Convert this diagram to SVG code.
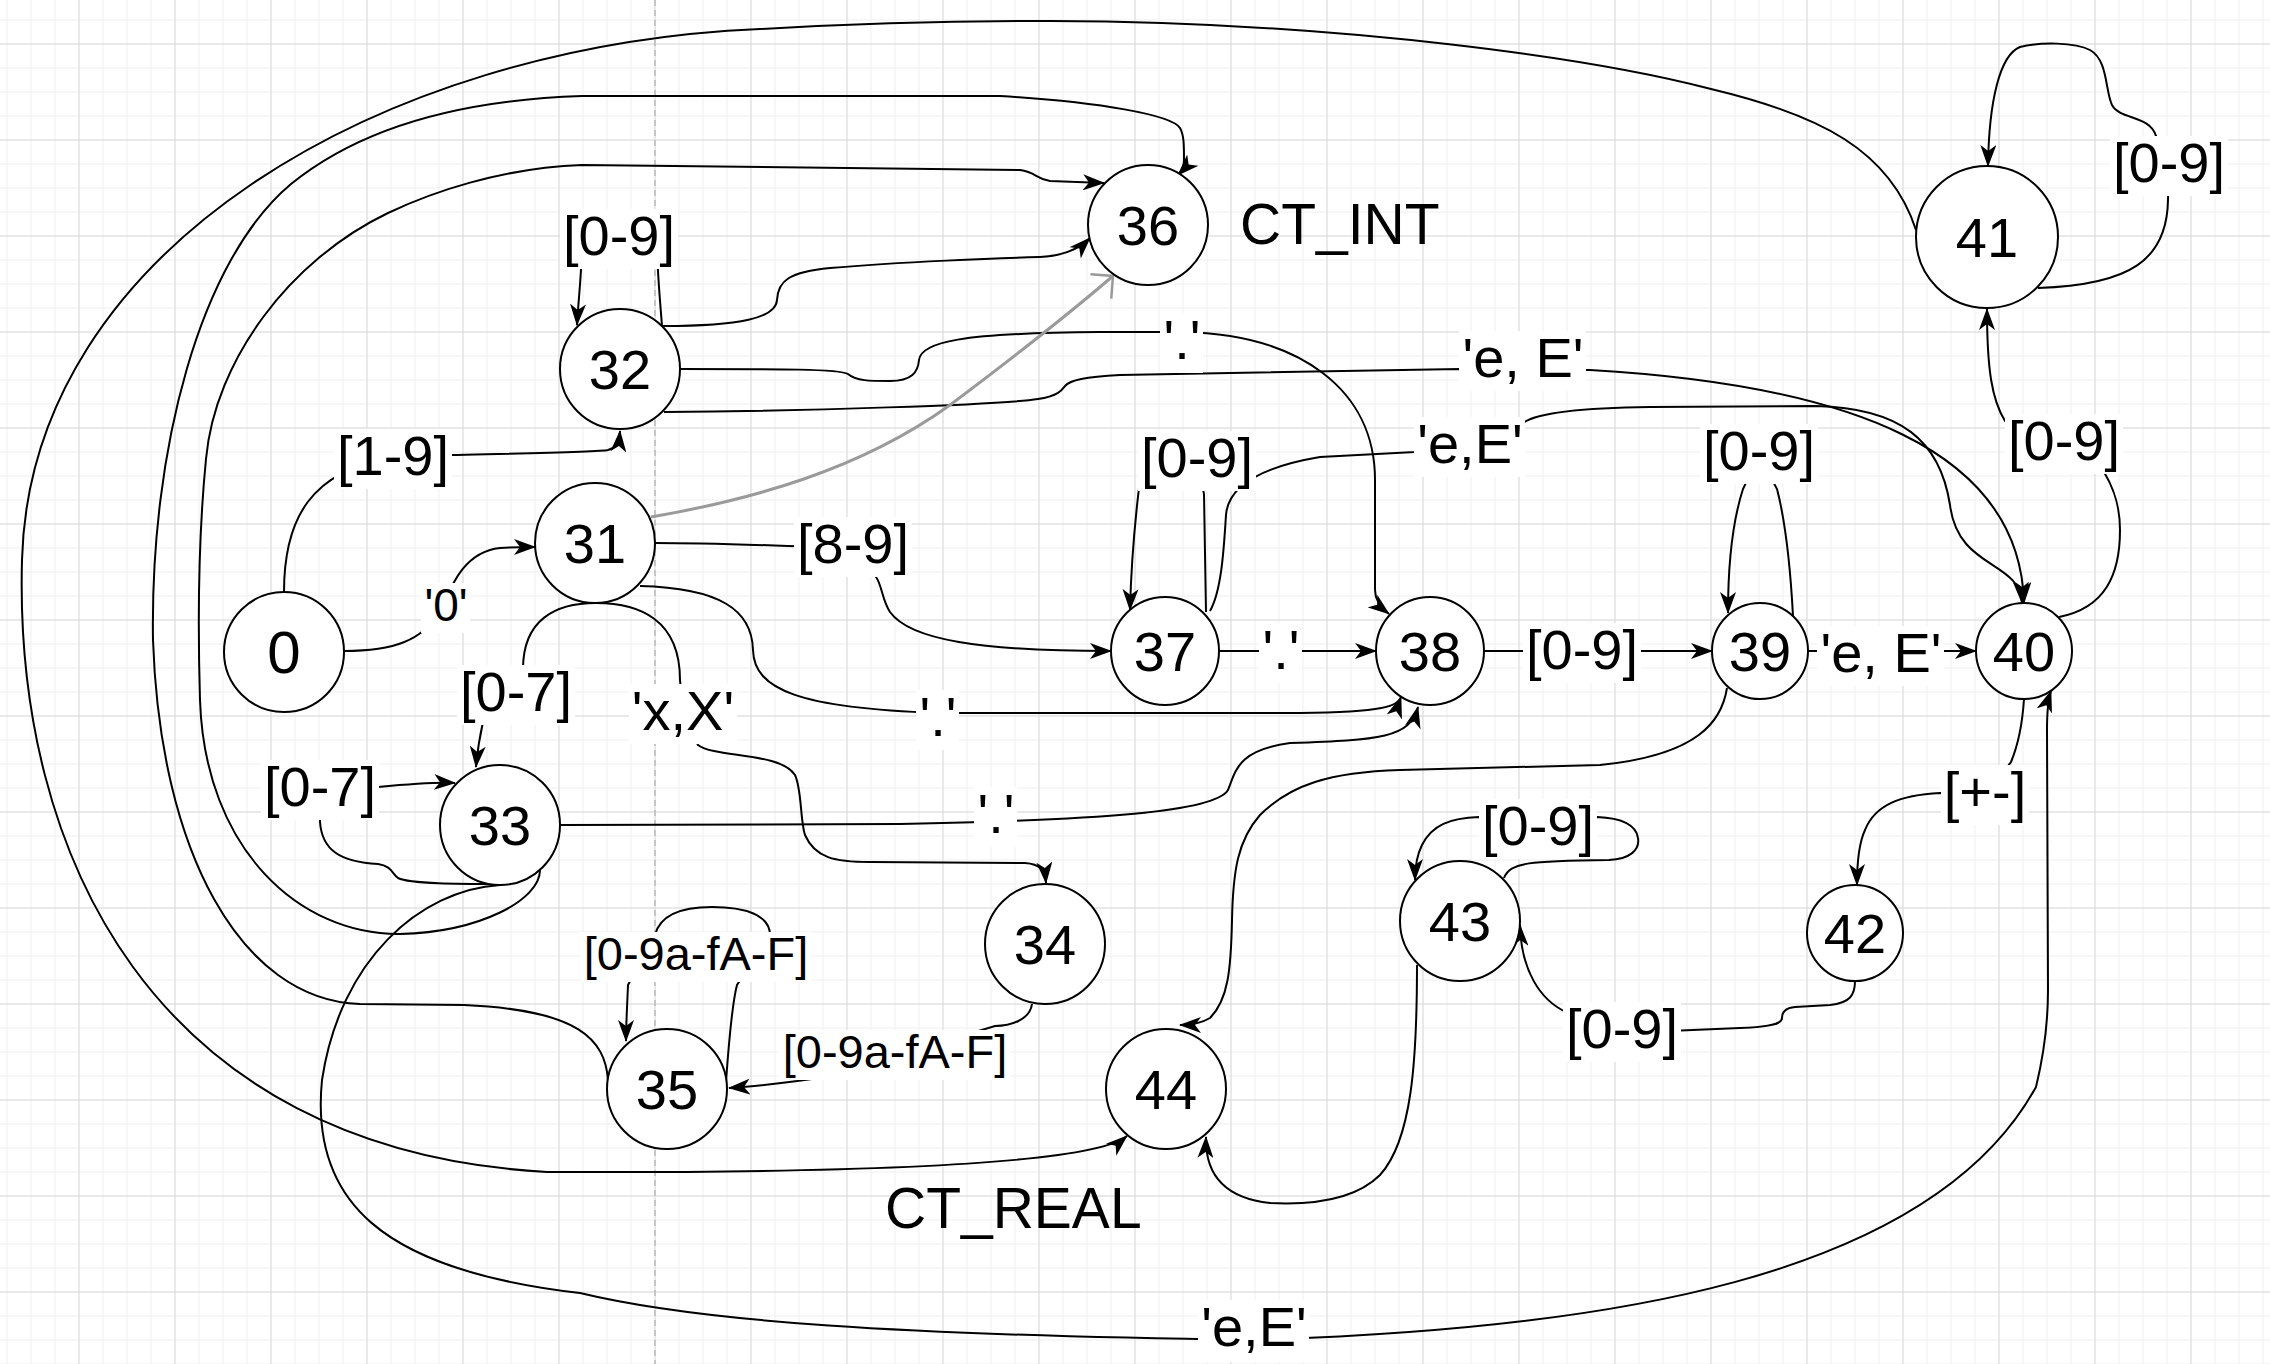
<svg xmlns="http://www.w3.org/2000/svg" width="2270" height="1364" viewBox="0 0 2270 1364">
<defs>
<style>
.c{fill:none;stroke:#000;stroke-width:2;marker-end:url(#arr)}
.g{fill:none;stroke:#9a9a9a;stroke-width:3;marker-end:url(#garr)}
.nd circle{fill:#fff;stroke:#000;stroke-width:2}
text{font-family:"Liberation Sans",Arial,Helvetica,sans-serif;fill:#000}
.nd text{font-size:56px;text-anchor:middle}
.lb rect{fill:#fff}
.lb text{font-size:56px;text-anchor:middle}
.lb text.s{font-size:46px}
.lb text.h{font-size:47px}
.free{font-size:57px}
</style>
<marker id="arr" markerUnits="userSpaceOnUse" markerWidth="22" markerHeight="16" viewBox="0 0 22 16" refX="21" refY="8" orient="auto"><path d="M0,0 L22,8 L0,16 L6,8 Z" fill="#000"/></marker>
<marker id="garr" markerUnits="userSpaceOnUse" markerWidth="30" markerHeight="40" viewBox="0 0 30 40" refX="26" refY="20" orient="auto"><path d="M10,4 L26,20 L10,36" fill="none" stroke="#9a9a9a" stroke-width="2.5"/></marker>
<pattern id="grid" x="78" y="43" width="96" height="96" patternUnits="userSpaceOnUse">
<path d="M25 0V96M49 0V96M73 0V96M0 25H96M0 49H96M0 73H96" stroke="#efefef" stroke-width="1"/>
<path d="M1 0V96M0 1H96" stroke="#e2e2e2" stroke-width="1.5"/>
</pattern>
</defs>
<rect x="0" y="0" width="2270" height="1364" fill="#fff"/>
<rect x="0" y="0" width="2270" height="1364" fill="url(#grid)"/>
<line x1="655" y1="0" x2="655" y2="1364" stroke="#b0b0b0" stroke-width="1.2" stroke-dasharray="6 4"/>

<g id="connectors">
<path id="e-0-32" class="c" d="M284 592 C284 520 310 470 393 458 L450 455 C540 453 600 452 608 450 C615 448 619 444 620 431"/>
<path id="e-0-31" class="c" d="M344 651 C395 651 422 640 440 612 C450 590 462 552 500 548 C515 547 525 547 535 547"/>
<path id="e-32-32" class="c" d="M662 326 C660 300 658 280 657 250 L582 250 C581 280 578 305 577 325"/>
<path id="e-32-36" class="c" d="M663 326 C740 326 776 318 777 300 C778 280 790 272 830 268 C900 262 1000 258 1040 257 C1062 256 1078 250 1090 238"/>
<path id="e-32-38" class="c" d="M680 369 C780 369 840 369 848 374 C856 381 870 381 890 381 C912 381 918 372 919 360 C921 342 960 333 1100 332 L1182 332 C1300 334 1375 390 1375 480 L1375 590 C1375 600 1380 607 1389 614"/>
<path id="e-32-40" class="c" d="M664 412 C800 411 1000 405 1038 399 C1058 396 1062 390 1065 386 C1070 380 1085 377 1120 375 L1460 369 L1590 370 C1850 385 2020 450 2024 603"/>
<path id="e-37-40" class="c" d="M1210 611 C1222 590 1224 545 1226 515 C1228 488 1255 468 1320 457 L1415 452 L1470 447 L1523 423 C1535 414 1570 408 1650 407 L1816 406 C1900 408 1940 440 1950 505 C1958 570 2020 560 2022 603"/>
<path id="e-31-36" class="g" d="M651 517 C750 500 860 470 950 405 C1030 345 1085 300 1113 276"/>
<path id="e-31-37" class="c" d="M655 543 C720 543 780 546 853 548 L876 577 C882 585 882 600 890 612 C910 640 980 651 1111 651"/>
<path id="e-31-38" class="c" d="M640 586 C720 588 752 610 753 650 C754 690 800 708 938 713 L1300 713 C1385 712 1398 706 1401 697"/>
<path id="e-31-33" class="c" d="M596 603 C555 603 523 620 523 669 L516 696 L483 722 C479 740 477 755 476 767"/>
<path id="e-31-34" class="c" d="M596 603 C640 603 680 620 680 680 L683 712 L698 745 C715 758 780 752 795 775 C802 790 800 820 805 835 C815 858 835 862 870 862 L1025 863 C1040 864 1045 870 1046 883"/>
<path id="e-33-33" class="c" d="M500 884 C460 884 410 884 398 878 C392 874 392 866 378 864 C340 862 322 850 320 822 L320 791 L378 787 C410 784 435 782 455 783"/>
<path id="e-33-38" class="c" d="M560 825 L900 824 C1100 820 1215 812 1228 790 C1236 770 1238 750 1290 743 C1380 740 1410 738 1418 707"/>
<path id="e-33-36" class="c" d="M540 870 C540 900 480 932 400 934 C300 935 205 850 200 700 C197 600 200 520 206 459 C215 360 290 260 388 213 C430 193 500 168 582 165 L1020 170 C1036 172 1036 179 1050 181 L1104 183"/>
<path id="e-35-36" class="c" d="M608 1080 C605 1040 580 1010 464 1005 L360 1004 C240 1000 160 850 153 640 C150 450 200 260 291 184 C360 128 460 100 582 96 L1000 96 C1100 102 1172 115 1180 128 C1184 135 1184 145 1184 160 C1184 166 1182 171 1178 175"/>
<path id="e-41-44" class="c" d="M1916 230 C1890 150 1820 115 1711 89 C1600 60 1350 22 1050 21 C950 21 850 24 760 29 C380 45 30 250 22 560 C14 850 150 1150 547 1172 C800 1173 1090 1168 1127 1136"/>
<path id="e-33-40" class="c" d="M500 885 C420 890 340 960 322 1080 C310 1200 380 1270 580 1293 C700 1322 900 1335 1250 1340 C1600 1330 1930 1280 2036 1087 C2045 1050 2048 1020 2048 990 L2047 730 C2047 712 2048 700 2051 691"/>
<path id="e-34-35" class="c" d="M1032 1004 C1030 1020 1010 1026 995 1026 L895 1056 L840 1075 C800 1081 760 1086 729 1088"/>
<path id="e-35-35" class="c" d="M726 1082 C729 1040 733 1000 737 985 L770 935 C770 915 745 907 712 907 C680 907 660 915 655 935 L628 985 C627 1010 626 1025 626 1041"/>
<path id="e-37-38" class="c" d="M1219 651 L1376 651"/>
<path id="e-37-37" class="c" d="M1206 612 L1204 494 L1197 462 L1139 488 C1134 530 1131 570 1130 610"/>
<path id="e-38-39" class="c" d="M1484 651 L1712 651"/>
<path id="e-39-39" class="c" d="M1793 616 C1790 560 1785 520 1777 489 L1759 455 L1743 489 C1733 520 1728 560 1728 613"/>
<path id="e-39-40" class="c" d="M1808 651 L1976 651"/>
<path id="e-40-41" class="c" d="M2059 617 C2105 608 2120 575 2120 530 C2120 500 2110 482 2104 472 L2064 445 L2005 421 C1992 400 1987 370 1987 309"/>
<path id="e-41-41" class="c" d="M2038 288 C2130 285 2167 260 2168 200 L2169 167 L2156 136 C2150 115 2120 120 2112 105 C2105 90 2108 60 2090 50 C2075 42 2040 42 2020 47 C2000 55 1989 100 1988 166"/>
<path id="e-40-42" class="c" d="M2024 699 C2022 730 2016 750 2011 762 L1985 796 L1940 793 C1900 795 1875 805 1865 830 C1858 845 1857 865 1857 885"/>
<path id="e-42-43" class="c" d="M1855 981 C1855 995 1850 1003 1830 1005 L1795 1007 C1785 1008 1782 1012 1782 1018 C1782 1024 1770 1027 1740 1028 L1622 1033 L1566 1012 C1540 1000 1521 970 1520 925"/>
<path id="e-43-43" class="c" d="M1504 878 C1510 862 1530 861 1609 860 C1630 859 1640 850 1638 838 C1636 824 1620 818 1597 817 L1538 830 L1479 817 C1450 818 1432 825 1422 845 C1417 855 1415 865 1415 880"/>
<path id="e-43-44" class="c" d="M1417 965 C1417 1060 1412 1140 1380 1175 C1355 1200 1310 1205 1270 1203 C1225 1198 1205 1175 1206 1137"/>
<path id="e-39-44" class="c" d="M1727 688 C1722 720 1700 755 1600 765 L1400 770 C1330 772 1290 785 1260 815 C1238 840 1233 870 1232 920 C1231 970 1228 1000 1210 1018 C1200 1024 1190 1025 1180 1025"/>
</g>

<g id="node-0" class="nd"><circle cx="284" cy="652" r="60"/><text x="284" y="673" style="font-size:60px">0</text></g>
<g id="node-31" class="nd"><circle cx="595" cy="543" r="60"/><text x="595" y="563">31</text></g>
<g id="node-32" class="nd"><circle cx="620" cy="369" r="60"/><text x="620" y="389">32</text></g>
<g id="node-33" class="nd"><circle cx="500" cy="825" r="60"/><text x="500" y="845">33</text></g>
<g id="node-34" class="nd"><circle cx="1045" cy="944" r="60"/><text x="1045" y="964">34</text></g>
<g id="node-35" class="nd"><circle cx="667" cy="1089" r="60"/><text x="667" y="1109">35</text></g>
<g id="node-36" class="nd"><circle cx="1148" cy="225" r="60"/><text x="1148" y="245">36</text></g>
<g id="node-37" class="nd"><circle cx="1165" cy="651" r="54"/><text x="1165" y="671">37</text></g>
<g id="node-38" class="nd"><circle cx="1430" cy="651" r="54"/><text x="1430" y="671">38</text></g>
<g id="node-39" class="nd"><circle cx="1760" cy="651" r="48"/><text x="1760" y="671">39</text></g>
<g id="node-40" class="nd"><circle cx="2024" cy="651" r="48"/><text x="2024" y="671">40</text></g>
<g id="node-41" class="nd"><circle cx="1987" cy="237" r="71"/><text x="1987" y="257">41</text></g>
<g id="node-42" class="nd"><circle cx="1855" cy="933" r="48"/><text x="1855" y="953">42</text></g>
<g id="node-43" class="nd"><circle cx="1460" cy="921" r="60"/><text x="1460" y="941">43</text></g>
<g id="node-44" class="nd"><circle cx="1166" cy="1089" r="60"/><text x="1166" y="1109">44</text></g>

<g id="edge-labels">
<g class="lb"><rect x="334" y="429" width="118" height="60"/><text x="393" y="475">[1-9]</text></g>
<g class="lb"><rect x="421" y="583" width="49" height="50"/><text class="s" x="446" y="621">'0'</text></g>
<g class="lb"><rect x="560" y="209" width="118" height="60"/><text x="619" y="255">[0-9]</text></g>
<g class="lb"><rect x="1160" y="313" width="43" height="60"/><text x="1182" y="359">'.'</text></g>
<g class="lb"><rect x="1459" y="331" width="127" height="60"/><text x="1523" y="377">'e, E'</text></g>
<g class="lb"><rect x="1414" y="417" width="111" height="60"/><text x="1470" y="463">'e,E'</text></g>
<g class="lb"><rect x="1138" y="431" width="118" height="60"/><text x="1197" y="477">[0-9]</text></g>
<g class="lb"><rect x="794" y="517" width="118" height="60"/><text x="853" y="563">[8-9]</text></g>
<g class="lb"><rect x="1259" y="623" width="43" height="60"/><text x="1281" y="669">'.'</text></g>
<g class="lb"><rect x="916" y="690" width="43" height="60"/><text x="938" y="736">'.'</text></g>
<g class="lb"><rect x="457" y="665" width="118" height="60"/><text x="516" y="711">[0-7]</text></g>
<g class="lb"><rect x="629" y="684" width="108" height="60"/><text x="683" y="730">'x,X'</text></g>
<g class="lb"><rect x="261" y="760" width="118" height="60"/><text x="320" y="806">[0-7]</text></g>
<g class="lb"><rect x="974" y="787" width="43" height="60"/><text x="996" y="833">'.'</text></g>
<g class="lb"><rect x="1523" y="623" width="118" height="60"/><text x="1582" y="669">[0-9]</text></g>
<g class="lb"><rect x="1700" y="424" width="118" height="60"/><text x="1759" y="470">[0-9]</text></g>
<g class="lb"><rect x="1817" y="626" width="127" height="60"/><text x="1881" y="672">'e, E'</text></g>
<g class="lb"><rect x="2005" y="414" width="118" height="60"/><text x="2064" y="460">[0-9]</text></g>
<g class="lb"><rect x="2110" y="136" width="118" height="60"/><text x="2169" y="182">[0-9]</text></g>
<g class="lb"><rect x="1941" y="765" width="88" height="60"/><text x="1985" y="811">[+-]</text></g>
<g class="lb"><rect x="1479" y="799" width="118" height="60"/><text x="1538" y="845">[0-9]</text></g>
<g class="lb"><rect x="1563" y="1002" width="118" height="60"/><text x="1622" y="1048">[0-9]</text></g>
<g class="lb"><rect x="580" y="932" width="231" height="50"/><text class="h" x="696" y="970">[0-9a-fA-F]</text></g>
<g class="lb"><rect x="779" y="1030" width="231" height="50"/><text class="h" x="895" y="1068">[0-9a-fA-F]</text></g>
<g class="lb"><rect x="1198" y="1300" width="111" height="62"/><text x="1254" y="1346">'e,E'</text></g>
</g>

<g id="state-names">
<text class="free" x="1240" y="244">CT_INT</text>
<text class="free" x="885" y="1228">CT_REAL</text>
</g>
</svg>
